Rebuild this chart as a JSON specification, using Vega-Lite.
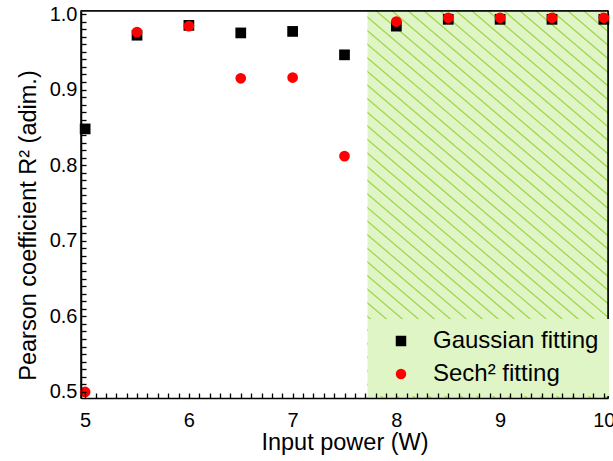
{
  "$schema": "https://vega.github.io/schema/vega-lite/v6.json",
  "width": 527,
  "height": 387,
  "autosize": "none",
  "padding": {"left": 81, "top": 11, "right": 5, "bottom": 63},
  "background": "white",
  "config": {
    "font": "Liberation Sans",
    "view": {"stroke": "black", "strokeWidth": 1.5},
    "axis": {
      "domainColor": "black", "domainWidth": 1.5,
      "tickColor": "black", "tickWidth": 1.3,
      "labelColor": "black", "titleColor": "black",
      "labelFont": "Liberation Sans", "titleFont": "Liberation Sans",
      "labelFontSize": 20, "titleFontSize": 23.5, "titleFontWeight": "normal",
      "grid": false
    }
  },
  "datasets": {
    "pts": [
      {"p": 5, "r": 0.848, "s": "Gaussian fitting"},
      {"p": 5.5, "r": 0.972, "s": "Gaussian fitting"},
      {"p": 6, "r": 0.985, "s": "Gaussian fitting"},
      {"p": 6.5, "r": 0.975, "s": "Gaussian fitting"},
      {"p": 7, "r": 0.977, "s": "Gaussian fitting"},
      {"p": 7.5, "r": 0.946, "s": "Gaussian fitting"},
      {"p": 8, "r": 0.984, "s": "Gaussian fitting"},
      {"p": 8.5, "r": 0.993, "s": "Gaussian fitting"},
      {"p": 9, "r": 0.993, "s": "Gaussian fitting"},
      {"p": 9.5, "r": 0.993, "s": "Gaussian fitting"},
      {"p": 10, "r": 0.993, "s": "Gaussian fitting"},
      {"p": 5, "r": 0.5, "s": "Sech² fitting"},
      {"p": 5.5, "r": 0.976, "s": "Sech² fitting"},
      {"p": 6, "r": 0.984, "s": "Sech² fitting"},
      {"p": 6.5, "r": 0.915, "s": "Sech² fitting"},
      {"p": 7, "r": 0.916, "s": "Sech² fitting"},
      {"p": 7.5, "r": 0.812, "s": "Sech² fitting"},
      {"p": 8, "r": 0.990, "s": "Sech² fitting"},
      {"p": 8.5, "r": 0.995, "s": "Sech² fitting"},
      {"p": 9, "r": 0.995, "s": "Sech² fitting"},
      {"p": 9.5, "r": 0.995, "s": "Sech² fitting"},
      {"p": 10, "r": 0.995, "s": "Sech² fitting"}
    ],
    "hatch": [
      {"x": 3.34, "x2": 7.72, "y": 1.004, "y2": 0.492},
      {"x": 3.494, "x2": 7.874, "y": 1.004, "y2": 0.492},
      {"x": 3.648, "x2": 8.028, "y": 1.004, "y2": 0.492},
      {"x": 3.802, "x2": 8.182, "y": 1.004, "y2": 0.492},
      {"x": 3.956, "x2": 8.336, "y": 1.004, "y2": 0.492},
      {"x": 4.11, "x2": 8.49, "y": 1.004, "y2": 0.492},
      {"x": 4.264, "x2": 8.644, "y": 1.004, "y2": 0.492},
      {"x": 4.418, "x2": 8.798, "y": 1.004, "y2": 0.492},
      {"x": 4.572, "x2": 8.952, "y": 1.004, "y2": 0.492},
      {"x": 4.726, "x2": 9.106, "y": 1.004, "y2": 0.492},
      {"x": 4.88, "x2": 9.26, "y": 1.004, "y2": 0.492},
      {"x": 5.034, "x2": 9.414, "y": 1.004, "y2": 0.492},
      {"x": 5.188, "x2": 9.568, "y": 1.004, "y2": 0.492},
      {"x": 5.342, "x2": 9.722, "y": 1.004, "y2": 0.492},
      {"x": 5.496, "x2": 9.876, "y": 1.004, "y2": 0.492},
      {"x": 5.65, "x2": 10.03, "y": 1.004, "y2": 0.492},
      {"x": 5.804, "x2": 10.184, "y": 1.004, "y2": 0.492},
      {"x": 5.958, "x2": 10.338, "y": 1.004, "y2": 0.492},
      {"x": 6.112, "x2": 10.492, "y": 1.004, "y2": 0.492},
      {"x": 6.266, "x2": 10.646, "y": 1.004, "y2": 0.492},
      {"x": 6.42, "x2": 10.8, "y": 1.004, "y2": 0.492},
      {"x": 6.574, "x2": 10.954, "y": 1.004, "y2": 0.492},
      {"x": 6.728, "x2": 11.108, "y": 1.004, "y2": 0.492},
      {"x": 6.882, "x2": 11.262, "y": 1.004, "y2": 0.492},
      {"x": 7.036, "x2": 11.416, "y": 1.004, "y2": 0.492},
      {"x": 7.19, "x2": 11.57, "y": 1.004, "y2": 0.492},
      {"x": 7.344, "x2": 11.724, "y": 1.004, "y2": 0.492},
      {"x": 7.498, "x2": 11.878, "y": 1.004, "y2": 0.492},
      {"x": 7.652, "x2": 12.032, "y": 1.004, "y2": 0.492},
      {"x": 7.806, "x2": 12.186, "y": 1.004, "y2": 0.492},
      {"x": 7.96, "x2": 12.34, "y": 1.004, "y2": 0.492},
      {"x": 8.114, "x2": 12.494, "y": 1.004, "y2": 0.492},
      {"x": 8.268, "x2": 12.648, "y": 1.004, "y2": 0.492},
      {"x": 8.422, "x2": 12.802, "y": 1.004, "y2": 0.492},
      {"x": 8.576, "x2": 12.956, "y": 1.004, "y2": 0.492},
      {"x": 8.73, "x2": 13.11, "y": 1.004, "y2": 0.492},
      {"x": 8.884, "x2": 13.264, "y": 1.004, "y2": 0.492},
      {"x": 9.038, "x2": 13.418, "y": 1.004, "y2": 0.492},
      {"x": 9.192, "x2": 13.572, "y": 1.004, "y2": 0.492},
      {"x": 9.346, "x2": 13.726, "y": 1.004, "y2": 0.492},
      {"x": 9.5, "x2": 13.88, "y": 1.004, "y2": 0.492},
      {"x": 9.654, "x2": 14.034, "y": 1.004, "y2": 0.492},
      {"x": 9.808, "x2": 14.188, "y": 1.004, "y2": 0.492},
      {"x": 9.962, "x2": 14.342, "y": 1.004, "y2": 0.492}
    ]
  },
  "layer": [
    {
      "data": {"values": [{"a": 7.72, "b": 10.04}]},
      "mark": {"type": "rect", "color": "#dff5c5"},
      "encoding": {
        "x": {"field": "a", "type": "quantitative", "scale": {"domain": [4.96, 10.04], "nice": false, "zero": false},
          "axis": {
            "title": "Input power (W)", "zindex": 1,
            "values": [5,5.1,5.2,5.3,5.4,5.5,5.6,5.7,5.8,5.9,6,6.1,6.2,6.3,6.4,6.5,6.6,6.7,6.8,6.9,7,7.1,7.2,7.3,7.4,7.5,7.6,7.7,7.8,7.9,8,8.1,8.2,8.3,8.4,8.5,8.6,8.7,8.8,8.9,9,9.1,9.2,9.3,9.4,9.5,9.6,9.7,9.8,9.9,10],
            "labelExpr": "datum.value % 1 === 0 ? format(datum.value, 'd') : ''",
            "labelOverlap": false, "labelFlush": false, "labelBound": false,
            "labelPadding": 17, "tickSize": -5,
            "titleBaseline": "alphabetic", "titleY": 51,
            "encode": {"ticks": {"y2": {"value": {"expr": "datum.value % 1 === 0 ? -9 : -5"}}}}
          }},
        "x2": {"field": "b"}
      }
    },
    {
      "data": {"name": "hatch"},
      "mark": {"type": "rule", "stroke": "#9ed84b", "strokeWidth": 1.3, "clip": true},
      "encoding": {
        "x": {"field": "x", "type": "quantitative", "scale": {"domain": [4.96, 10.04], "nice": false, "zero": false},
          "axis": {
            "title": "Input power (W)", "zindex": 1,
            "values": [5,5.1,5.2,5.3,5.4,5.5,5.6,5.7,5.8,5.9,6,6.1,6.2,6.3,6.4,6.5,6.6,6.7,6.8,6.9,7,7.1,7.2,7.3,7.4,7.5,7.6,7.7,7.8,7.9,8,8.1,8.2,8.3,8.4,8.5,8.6,8.7,8.8,8.9,9,9.1,9.2,9.3,9.4,9.5,9.6,9.7,9.8,9.9,10],
            "labelExpr": "datum.value % 1 === 0 ? format(datum.value, 'd') : ''",
            "labelOverlap": false, "labelFlush": false, "labelBound": false,
            "labelPadding": 17, "tickSize": -5,
            "titleBaseline": "alphabetic", "titleY": 51,
            "encode": {"ticks": {"y2": {"value": {"expr": "datum.value % 1 === 0 ? -9 : -5"}}}}
          }},
        "x2": {"field": "x2"},
        "y": {"field": "y", "type": "quantitative", "scale": {"domain": [0.492, 1.004], "nice": false, "zero": false},
          "axis": {
            "title": "Pearson coefficient R² (adim.)", "zindex": 1,
            "values": [0.5,0.51,0.52,0.53,0.54,0.55,0.56,0.57,0.58,0.59,0.6,0.61,0.62,0.63,0.64,0.65,0.66,0.67,0.68,0.69,0.7,0.71,0.72,0.73,0.74,0.75,0.76,0.77,0.78,0.79,0.8,0.81,0.82,0.83,0.84,0.85,0.86,0.87,0.88,0.89,0.9,0.91,0.92,0.93,0.94,0.95,0.96,0.97,0.98,0.99,1.0],
            "labelExpr": "round(datum.value * 100) % 10 === 0 ? format(datum.value, '.1f') : ''",
            "labelOverlap": false, "labelFlush": false, "labelBound": false,
            "labelPadding": 9, "tickSize": -5,
            "titleBaseline": "alphabetic", "titleX": -46, "titleY": 214,
            "encode": {"ticks": {"x2": {"value": {"expr": "round(datum.value * 100) % 10 === 0 ? 9 : 5"}}}}
          }},
        "y2": {"field": "y2"}
      }
    },
    {
      "data": {"values": [{"a": 4.96, "b": 7.72}]},
      "mark": {"type": "rect", "color": "white"},
      "encoding": {
        "x": {"field": "a", "type": "quantitative", "scale": {"domain": [4.96, 10.04], "nice": false, "zero": false},
          "axis": {
            "title": "Input power (W)", "zindex": 1,
            "values": [5,5.1,5.2,5.3,5.4,5.5,5.6,5.7,5.8,5.9,6,6.1,6.2,6.3,6.4,6.5,6.6,6.7,6.8,6.9,7,7.1,7.2,7.3,7.4,7.5,7.6,7.7,7.8,7.9,8,8.1,8.2,8.3,8.4,8.5,8.6,8.7,8.8,8.9,9,9.1,9.2,9.3,9.4,9.5,9.6,9.7,9.8,9.9,10],
            "labelExpr": "datum.value % 1 === 0 ? format(datum.value, 'd') : ''",
            "labelOverlap": false, "labelFlush": false, "labelBound": false,
            "labelPadding": 17, "tickSize": -5,
            "titleBaseline": "alphabetic", "titleY": 51,
            "encode": {"ticks": {"y2": {"value": {"expr": "datum.value % 1 === 0 ? -9 : -5"}}}}
          }},
        "x2": {"field": "b"}
      }
    },
    {
      "data": {"values": [{"a": 10.04}]},
      "mark": {"type": "rule", "color": "black", "strokeWidth": 1.5},
      "encoding": {
        "x": {"field": "a", "type": "quantitative", "scale": {"domain": [4.96, 10.04], "nice": false, "zero": false},
          "axis": {
            "title": "Input power (W)", "zindex": 1,
            "values": [5,5.1,5.2,5.3,5.4,5.5,5.6,5.7,5.8,5.9,6,6.1,6.2,6.3,6.4,6.5,6.6,6.7,6.8,6.9,7,7.1,7.2,7.3,7.4,7.5,7.6,7.7,7.8,7.9,8,8.1,8.2,8.3,8.4,8.5,8.6,8.7,8.8,8.9,9,9.1,9.2,9.3,9.4,9.5,9.6,9.7,9.8,9.9,10],
            "labelExpr": "datum.value % 1 === 0 ? format(datum.value, 'd') : ''",
            "labelOverlap": false, "labelFlush": false, "labelBound": false,
            "labelPadding": 17, "tickSize": -5,
            "titleBaseline": "alphabetic", "titleY": 51,
            "encode": {"ticks": {"y2": {"value": {"expr": "datum.value % 1 === 0 ? -9 : -5"}}}}
          }}
      }
    },
    {
      "data": {"values": [{"b": 1.004}]},
      "mark": {"type": "rule", "color": "black", "strokeWidth": 1.5},
      "encoding": {
        "y": {"field": "b", "type": "quantitative", "scale": {"domain": [0.492, 1.004], "nice": false, "zero": false},
          "axis": {
            "title": "Pearson coefficient R² (adim.)", "zindex": 1,
            "values": [0.5,0.51,0.52,0.53,0.54,0.55,0.56,0.57,0.58,0.59,0.6,0.61,0.62,0.63,0.64,0.65,0.66,0.67,0.68,0.69,0.7,0.71,0.72,0.73,0.74,0.75,0.76,0.77,0.78,0.79,0.8,0.81,0.82,0.83,0.84,0.85,0.86,0.87,0.88,0.89,0.9,0.91,0.92,0.93,0.94,0.95,0.96,0.97,0.98,0.99,1.0],
            "labelExpr": "round(datum.value * 100) % 10 === 0 ? format(datum.value, '.1f') : ''",
            "labelOverlap": false, "labelFlush": false, "labelBound": false,
            "labelPadding": 9, "tickSize": -5,
            "titleBaseline": "alphabetic", "titleX": -46, "titleY": 214,
            "encode": {"ticks": {"x2": {"value": {"expr": "round(datum.value * 100) % 10 === 0 ? 9 : 5"}}}}
          }}
      }
    },
    {
      "data": {"name": "pts"},
      "mark": {"type": "point", "filled": true, "size": 115, "opacity": 1, "strokeWidth": 0},
      "encoding": {
        "x": {
          "field": "p", "type": "quantitative",
          "scale": {"domain": [4.96, 10.04], "nice": false, "zero": false},
          "axis": {
            "title": "Input power (W)", "zindex": 1,
            "values": [5,5.1,5.2,5.3,5.4,5.5,5.6,5.7,5.8,5.9,6,6.1,6.2,6.3,6.4,6.5,6.6,6.7,6.8,6.9,7,7.1,7.2,7.3,7.4,7.5,7.6,7.7,7.8,7.9,8,8.1,8.2,8.3,8.4,8.5,8.6,8.7,8.8,8.9,9,9.1,9.2,9.3,9.4,9.5,9.6,9.7,9.8,9.9,10],
            "labelExpr": "datum.value % 1 === 0 ? format(datum.value, 'd') : ''",
            "labelOverlap": false, "labelFlush": false, "labelBound": false,
            "labelPadding": 17, "tickSize": -5,
            "titleBaseline": "alphabetic", "titleY": 51,
            "encode": {"ticks": {"y2": {"value": {"expr": "datum.value % 1 === 0 ? -9 : -5"}}}}
          }
        },
        "y": {
          "field": "r", "type": "quantitative",
          "scale": {"domain": [0.492, 1.004], "nice": false, "zero": false},
          "axis": {
            "title": "Pearson coefficient R² (adim.)", "zindex": 1,
            "values": [0.5,0.51,0.52,0.53,0.54,0.55,0.56,0.57,0.58,0.59,0.6,0.61,0.62,0.63,0.64,0.65,0.66,0.67,0.68,0.69,0.7,0.71,0.72,0.73,0.74,0.75,0.76,0.77,0.78,0.79,0.8,0.81,0.82,0.83,0.84,0.85,0.86,0.87,0.88,0.89,0.9,0.91,0.92,0.93,0.94,0.95,0.96,0.97,0.98,0.99,1.0],
            "labelExpr": "round(datum.value * 100) % 10 === 0 ? format(datum.value, '.1f') : ''",
            "labelOverlap": false, "labelFlush": false, "labelBound": false,
            "labelPadding": 9, "tickSize": -5,
            "titleBaseline": "alphabetic", "titleX": -46, "titleY": 214,
            "encode": {"ticks": {"x2": {"value": {"expr": "round(datum.value * 100) % 10 === 0 ? 9 : 5"}}}}
          }
        },
        "color": {
          "field": "s", "type": "nominal",
          "scale": {"domain": ["Gaussian fitting", "Sech² fitting"], "range": ["#000000", "#ff0000"]},
          "legend": {
            "orient": "none", "legendX": 287, "legendY": 308, "title": null,
            "fillColor": "#dff5c5", "strokeColor": null, "padding": 10,
            "symbolOffset": 11, "labelOffset": 20, "labelFontSize": 24, "labelFont": "Liberation Sans",
            "labelColor": "black", "labelLimit": 400, "rowPadding": 9, "symbolSize": 110, "symbolStrokeWidth": 0
          }
        },
        "shape": {
          "field": "s", "type": "nominal",
          "scale": {"domain": ["Gaussian fitting", "Sech² fitting"], "range": ["square", "circle"]},
          "legend": {
            "orient": "none", "legendX": 287, "legendY": 308, "title": null,
            "fillColor": "#dff5c5", "strokeColor": null, "padding": 10,
            "symbolOffset": 11, "labelOffset": 20, "labelFontSize": 24, "labelFont": "Liberation Sans",
            "labelColor": "black", "labelLimit": 400, "rowPadding": 9, "symbolSize": 110, "symbolStrokeWidth": 0
          }
        }
      }
    }
  ]
}
